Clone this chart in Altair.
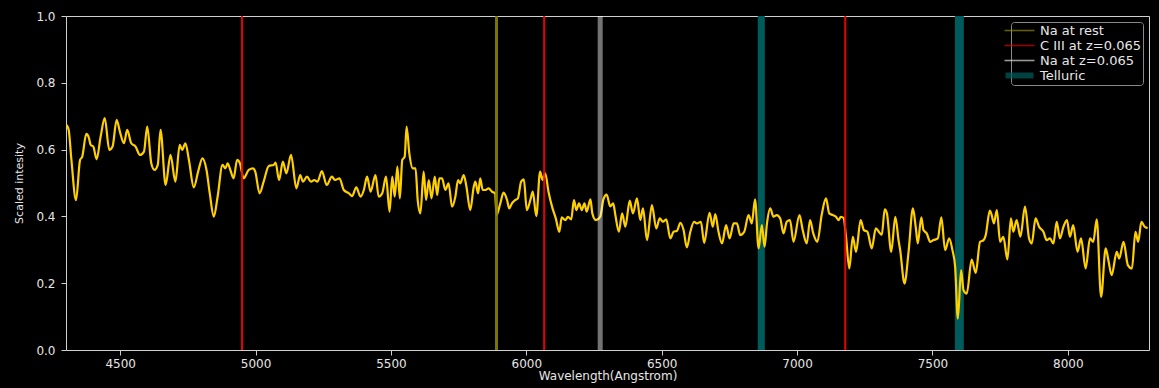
import altair as alt
import pandas as pd

# Spectrum sampled along the dispersion axis (Angstrom) and scaled intensity
wavelength = [
    4302, 4310, 4320, 4337, 4352, 4360, 4375, 4385, 4391, 4401, 4413, 4428, 4443, 4460, 4472,
    4487, 4499, 4514, 4526, 4541, 4557, 4573, 4588, 4600, 4615, 4627, 4639, 4649, 4668, 4686,
    4704, 4720, 4729, 4741, 4754, 4772, 4788, 4804, 4819, 4831, 4846, 4860, 4878, 4889, 4897,
    4907, 4919, 4932, 4942, 4956, 4975, 4991, 4999, 5015, 5030, 5049, 5067, 5074, 5087, 5101,
    5114, 5131, 5151, 5165, 5175, 5190, 5205, 5217, 5229, 5245, 5263, 5282, 5294, 5310, 5326,
    5345, 5357, 5372, 5388, 5400, 5412, 5425, 5443, 5455, 5468, 5482, 5495, 5505, 5514, 5524,
    5533, 5542, 5551, 5558, 5568, 5581, 5591, 5599, 5609, 5621, 5630, 5640, 5650, 5662, 5671,
    5679, 5689, 5701, 5713, 5726, 5738, 5748, 5756, 5769, 5779, 5793, 5806, 5812, 5822, 5830,
    5839, 5849, 5861, 5873, 5885, 5890, 5904, 5916, 5929, 5937, 5947, 5959, 5969, 5981, 5991,
    6002, 6015, 6024, 6037, 6051, 6060, 6070, 6082, 6097, 6109, 6122, 6131, 6144, 6154, 6166,
    6176, 6185, 6195, 6205, 6215, 6223, 6237, 6244, 6257, 6273, 6285, 6297, 6310, 6321, 6329,
    6342, 6354, 6366, 6382, 6394, 6409, 6421, 6431, 6446, 6464, 6480, 6493, 6505, 6517, 6532,
    6544, 6557, 6569, 6581, 6593, 6606, 6620, 6630, 6645, 6657, 6677, 6689, 6698, 6710, 6723,
    6738, 6751, 6766, 6778, 6790, 6805, 6821, 6833, 6845, 6858, 6870, 6880, 6889, 6901, 6913,
    6925, 6938, 6950, 6962, 6974, 6987, 7009, 7021, 7036, 7048, 7060, 7075, 7091, 7107, 7119,
    7132, 7144, 7153, 7162, 7172, 7181, 7193, 7206, 7218, 7235, 7247, 7260, 7276, 7291, 7304,
    7313, 7324, 7332, 7348, 7363, 7375, 7381, 7397, 7412, 7428, 7439, 7446, 7459, 7467, 7479,
    7492, 7504, 7520, 7533, 7547, 7562, 7574, 7584, 7594, 7606, 7615, 7627, 7645, 7660, 7676,
    7689, 7697, 7712, 7719, 7727, 7738, 7750, 7762, 7777, 7790, 7799, 7811, 7825, 7842, 7857,
    7867, 7881, 7894, 7910, 7922, 7934, 7947, 7959, 7971, 7984, 7997, 8008, 8020, 8036, 8049,
    8066, 8082, 8094, 8107, 8123, 8140, 8150, 8162, 8181, 8190, 8206, 8222, 8237, 8250, 8260,
    8272, 8284, 8295,
]
intensity = [
    0.674, 0.659, 0.569, 0.449, 0.569, 0.579, 0.647, 0.634, 0.614, 0.609, 0.571, 0.639, 0.694, 0.599, 0.609,
    0.689, 0.654, 0.619, 0.659, 0.619, 0.609, 0.584, 0.594, 0.669, 0.559, 0.539, 0.554, 0.659, 0.494, 0.584,
    0.504, 0.614, 0.599, 0.619, 0.569, 0.487, 0.534, 0.574, 0.539, 0.469, 0.399, 0.459, 0.554, 0.544, 0.559,
    0.539, 0.514, 0.569, 0.560, 0.514, 0.539, 0.544, 0.534, 0.469, 0.504, 0.551, 0.554, 0.561, 0.509, 0.564,
    0.529, 0.584, 0.484, 0.524, 0.504, 0.519, 0.504, 0.509, 0.504, 0.536, 0.494, 0.519, 0.509, 0.514, 0.479,
    0.469, 0.461, 0.487, 0.459, 0.479, 0.519, 0.474, 0.524, 0.459, 0.469, 0.519, 0.414, 0.519, 0.459, 0.549,
    0.454, 0.569, 0.579, 0.669, 0.589, 0.544, 0.544, 0.449, 0.409, 0.534, 0.449, 0.509, 0.454, 0.519, 0.464,
    0.514, 0.514, 0.479, 0.499, 0.429, 0.459, 0.509, 0.499, 0.524, 0.489, 0.419, 0.489, 0.504, 0.469, 0.514,
    0.479, 0.479, 0.484, 0.474, 0.469, 0.404, 0.439, 0.471, 0.449, 0.424, 0.439, 0.449, 0.454, 0.504, 0.511,
    0.419, 0.449, 0.474, 0.401, 0.534, 0.509, 0.529, 0.474, 0.424, 0.394, 0.354, 0.397, 0.389, 0.399, 0.391,
    0.449, 0.419, 0.439, 0.419, 0.439, 0.414, 0.451, 0.409, 0.389, 0.399, 0.451, 0.465, 0.430, 0.439, 0.404,
    0.354, 0.409, 0.369, 0.447, 0.409, 0.454, 0.389, 0.424, 0.329, 0.434, 0.364, 0.394, 0.384, 0.391, 0.334,
    0.354, 0.357, 0.381, 0.359, 0.307, 0.354, 0.384, 0.379, 0.384, 0.321, 0.411, 0.369, 0.407, 0.354, 0.319,
    0.374, 0.334, 0.379, 0.379, 0.344, 0.354, 0.404, 0.379, 0.451, 0.304, 0.374, 0.309, 0.379, 0.424, 0.399,
    0.404, 0.394, 0.349, 0.384, 0.389, 0.324, 0.404, 0.359, 0.319, 0.389, 0.349, 0.324, 0.404, 0.454, 0.409,
    0.404, 0.399, 0.389, 0.399, 0.395, 0.339, 0.244, 0.339, 0.294, 0.389, 0.359, 0.354, 0.304, 0.364, 0.352,
    0.345, 0.421, 0.409, 0.294, 0.399, 0.329, 0.299, 0.199, 0.294, 0.424, 0.364, 0.319, 0.397, 0.359, 0.349,
    0.324, 0.329, 0.334, 0.397, 0.299, 0.334, 0.299, 0.249, 0.094, 0.239, 0.179, 0.169, 0.271, 0.231, 0.324,
    0.329, 0.344, 0.417, 0.404, 0.379, 0.419, 0.324, 0.339, 0.271, 0.394, 0.354, 0.389, 0.339, 0.429, 0.334,
    0.319, 0.394, 0.369, 0.354, 0.329, 0.334, 0.319, 0.384, 0.334, 0.369, 0.389, 0.339, 0.374, 0.294, 0.334,
    0.244, 0.334, 0.324, 0.391, 0.159, 0.304, 0.269, 0.224, 0.294, 0.274, 0.324, 0.254, 0.244, 0.354, 0.324,
    0.384, 0.369, 0.365,
]

# Marked features (Angstrom)
na_rest = [5890]
c3_redshifted = [4950, 6066, 7178]
na_redshifted = [6273]
telluric_lo = [6855, 7583]
telluric_hi = [6881, 7616]

legend_labels = ["Na at rest", "C III at z=0.065", "Na at z=0.065", "Telluric"]
legend_colors = ["#8c8700", "#e00000", "#d8d8d8", "#005c5c"]
# Legend glyphs: thin bars for the line entries, a patch for the band entry
thin_bar = "M-3,-0.16H3V0.16H-3Z"
patch = "M-2.8,-0.6H2.8V0.6H-2.8Z"
legend_shapes = [thin_bar, thin_bar, thin_bar, patch]

x_ticks = [4500, 5000, 5500, 6000, 6500, 7000, 7500, 8000]
y_ticks = [0.0, 0.2, 0.4, 0.6, 0.8, 1.0]

spec = pd.DataFrame({"w": wavelength, "v": intensity})
bands = pd.DataFrame({"lo": telluric_lo, "hi": telluric_hi})

x_scale = alt.Scale(domain=[4300, 8300], nice=False, zero=False)
y_scale = alt.Scale(domain=[0, 1], nice=False)

x_axis = alt.Axis(values=x_ticks, format="d", title="Wavelength(Angstrom)", labelPadding=3,
                  titlePadding=1, titleFontSize=12)
y_axis = alt.Axis(values=y_ticks, format=".1f", title="Scaled intesity",
                  labelPadding=6, titlePadding=11, titleFontSize=11)

tellurics = alt.Chart(bands).mark_rect(color="#005c5c").encode(
    x=alt.X("lo:Q", scale=x_scale, axis=x_axis),
    x2="hi:Q",
)

line = alt.Chart(spec).mark_line(
    color="#ffd000", strokeWidth=2.2, clip=True, interpolate="monotone"
).encode(
    x=alt.X("w:Q", scale=x_scale, axis=x_axis),
    y=alt.Y("v:Q", scale=y_scale, axis=y_axis),
)

na_rest_rule = alt.Chart(pd.DataFrame({"w": na_rest})).mark_rule(
    color="#878200", strokeWidth=3, opacity=0.9
).encode(x="w:Q")

c3_rules = alt.Chart(pd.DataFrame({"w": c3_redshifted})).mark_rule(
    color="#ff0000", strokeWidth=2, opacity=0.9
).encode(x="w:Q")

na_z_rule = alt.Chart(pd.DataFrame({"w": na_redshifted})).mark_rule(
    color="#ffffff", strokeWidth=5, opacity=0.45
).encode(x="w:Q")

# Points below the y domain, clipped away, that only carry the legend entries
legend_layer = alt.Chart(
    pd.DataFrame({"label": legend_labels, "w": [6000] * 4, "v": [-1.0] * 4})
).mark_point(filled=True, size=100, clip=True).encode(
    x=alt.X("w:Q", scale=x_scale),
    y=alt.Y("v:Q", scale=y_scale),
    color=alt.Color("label:N", sort=legend_labels,
                    scale=alt.Scale(domain=legend_labels, range=legend_colors),
                    legend=alt.Legend(title=None)),
    shape=alt.Shape("label:N", sort=legend_labels,
                    scale=alt.Scale(domain=legend_labels, range=legend_shapes),
                    legend=alt.Legend(title=None)),
)

chart = alt.layer(
    tellurics, line, na_rest_rule, c3_rules, na_z_rule, legend_layer
).properties(
    width=1083,
    height=334,
    autosize=alt.AutoSizeParams(type="none"),
    padding={"left": 66, "top": 16, "right": 10, "bottom": 38},
    background="black",
).configure_view(
    stroke="#d0d0d0", strokeWidth=1
).configure_axis(
    grid=False,
    domain=False,
    tickColor="#d0d0d0",
    tickSize=5,
    labelColor="#e6e6e6",
    titleColor="#e6e6e6",
    labelFont="DejaVu Sans",
    titleFont="DejaVu Sans",
    labelFontSize=12,
    titleFontWeight="normal",
).configure_legend(
    orient="top-right",
    offset=6,
    fillColor="black",
    strokeColor="#8a8a8a",
    cornerRadius=3,
    padding=2,
    labelColor="#e6e6e6",
    labelFont="DejaVu Sans",
    labelFontSize=13,
    symbolSize=100,
    labelOffset=14,
    rowPadding=1,
)

chart.save("out.html", embed_options={"renderer": "svg", "actions": False})
